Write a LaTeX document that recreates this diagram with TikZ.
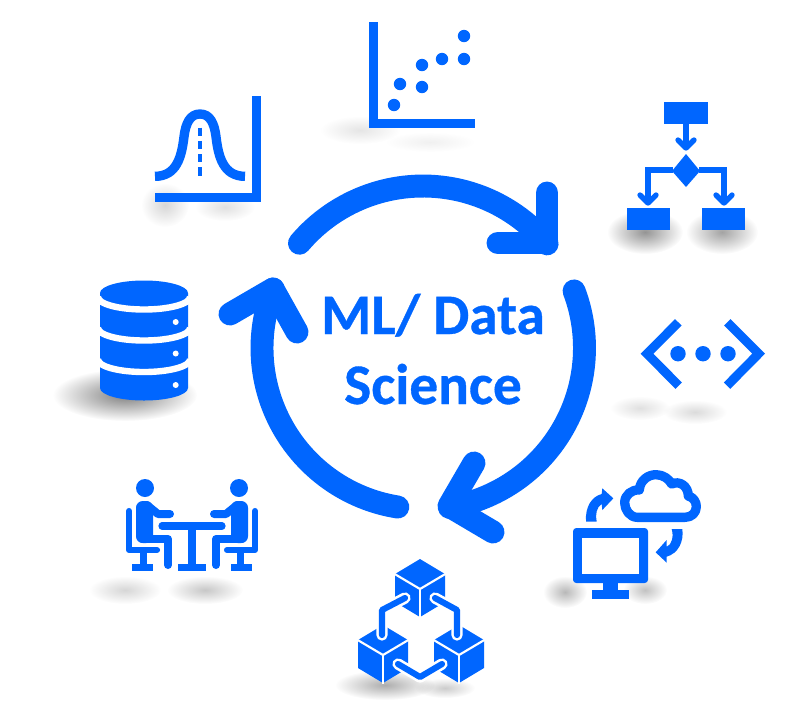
\documentclass[tikz,border=0pt]{standalone}
\usepackage{fontspec}
\setmainfont[BoldFeatures={FakeBold=0.6}]{Carlito}
\usetikzlibrary{fadings}
\definecolor{mlblue}{HTML}{0066FF}
\tikzfading[name=softblob, inner color=transparent!0, outer color=transparent!100]
\tikzset{
  ringarrow/.style={draw=mlblue,line width=17.2pt,line cap=round,line join=round},
  bluefill/.style={fill=mlblue,draw=none},
  softshadow/.style={fill=black,path fading=softblob,fit fading=true,opacity=#1},
  mltext/.style={text=mlblue,font=\fontsize{43}{46}\selectfont\bfseries,anchor=base,inner sep=0pt},
  flowline/.style={draw=mlblue,line width=4pt,line cap=round,line join=round},
  limb/.style={draw=mlblue,line width=6pt,line cap=round,line join=round},
  chair/.style={draw=mlblue,line width=4.6pt,line cap=round,line join=round},
  link/.style={draw=mlblue,line width=4.6pt,line cap=round,line join=round},
  linkcase/.style={draw=white,line width=8.5pt,line cap=round,line join=round},
  facegap/.style={draw=white,line width=1.6pt},
  dbgap/.style={draw=white,line width=4.8pt},
}
\newcommand{\blob}[5]{\fill[softshadow=#5] (#1,#2) ellipse[x radius=#3,y radius=#4];}
\newcommand{\cubeicon}[2]{%
  \fill[bluefill] (#1,#2)+(0,-30) -- +(25,-15) -- +(25,13) -- +(0,28) -- +(-25,13) -- +(-25,-15) -- cycle;
  \draw[facegap] (#1,#2)+(-27,-16) -- +(0,0) -- +(27,-16);
  \draw[facegap] (#1,#2)+(0,0) -- +(0,29);
}
\newcommand{\seatedperson}{%
  \fill[mlblue] (145,488) circle[radius=9];
  \fill[bluefill,rounded corners=5pt] (136,501) rectangle (153,543);
  \draw[limb] (147,505) -- (158,514) -- (170,514);
  \draw[limb] (142,539) -- (168,539) -- (168,565);
  \draw[chair] (129,511) -- (129,550) -- (157,550);
  \fill[bluefill] (140,552) rectangle (147,566);
  \fill[bluefill] (132,564) rectangle (153,571);
}
\begin{document}
\begin{tikzpicture}[x=0.75pt,y=-0.75pt]
\useasboundingbox (0,0) rectangle (791,708);
\fill[white] (0,0) rectangle (791,708);

% soft shadows
\blob{360}{130}{40}{14}{.10}
\blob{430}{142}{45}{10}{.06}
\blob{165}{205}{24}{22}{.16}
\blob{225}{207}{30}{14}{.12}
\blob{645}{232}{38}{22}{.42}
\blob{722}{232}{36}{22}{.36}
\blob{125}{395}{72}{26}{.50}
\blob{640}{408}{30}{12}{.12}
\blob{695}{412}{32}{12}{.14}
\blob{565}{592}{22}{16}{.28}
\blob{645}{590}{22}{14}{.24}
\blob{125}{590}{36}{14}{.16}
\blob{205}{590}{38}{14}{.22}
\blob{385}{685}{50}{15}{.32}
\blob{445}{688}{30}{10}{.20}

% ring of arrows
\coordinate (ctr) at (423,348);
\draw[ringarrow] (ctr)+(220.3:162) arc[start angle=220.3,end angle=320,radius=162]
  coordinate (t1);
\coordinate (t1a) at (547,193);
\coordinate (t1b) at (498,243);
\draw[ringarrow] (t1a) -- (547,243) -- (t1b);
\draw[ringarrow] (ctr)+(-20.7:161.5) arc[start angle=-20.7,end angle=80.6,radius=161.5];
\coordinate (t2a) at (474,463);
\coordinate (t2b) at (493,532);
\draw[ringarrow] (t2a) -- (449,506) -- (t2b);
\draw[ringarrow] (ctr)+(99:161) arc[start angle=99,end angle=201.5,radius=161];
\coordinate (t3a) at (230,314);
\coordinate (t3b) at (297,332);
\draw[ringarrow] (t3a) -- (273,289) -- (t3b);

\node[mltext] (title1) at (433,334) {ML/ Data};
\node[mltext] (title2) at (433,404) {Science};

% scatter plot
\fill[bluefill] (369,22) rectangle (378,128);
\fill[bluefill] (369,118.5) rectangle (475,128);
\foreach \px/\py in {394/105,400/84,422/87,422/65,442/59,464/59,464/36}
  \fill[mlblue] (\px,\py) circle[radius=6.2];

% flow chart
\fill[bluefill] (664,102) rectangle (708,123.5);
\draw[flowline,line cap=butt] (686,123) -- (686,148);
\draw[flowline] (678,140) -- (686,148) -- (694,140);
\fill[bluefill] (686,154) -- (700,171) -- (686,187) -- (672,171) -- cycle;
\draw[flowline,line cap=butt,line join=miter] (673,170) -- (648,170) -- (648,202);
\draw[flowline,line cap=butt,line join=miter] (699,170) -- (724,170) -- (724,202);
\draw[flowline] (640,195) -- (648,203) -- (656,195);
\draw[flowline] (716,195) -- (724,203) -- (732,195);
\fill[bluefill] (627,208) rectangle (670,230);
\fill[bluefill] (702,208) rectangle (745,230);

% bell curve
\fill[bluefill] (252,96) rectangle (261,202);
\fill[bluefill] (155,192.7) rectangle (261,202);
\begin{scope}[shift={(140,90)},scale=1/3]
  \draw[mlblue,line width=7pt]
    (45,259) .. controls (110,259) and (125,200) .. (132,140)
    .. controls (137,100) and (150,72) .. (180,72)
    .. controls (210,72) and (223,100) .. (228,140)
    .. controls (235,200) and (250,259) .. (315,259);
\end{scope}
\draw[mlblue,line width=2.7pt,dash pattern=on 6.2pt off 3.7pt] (200,127.7) -- (200,177);

% database
\fill[bluefill] (100,293) -- (100,388) arc[start angle=180,end angle=0,x radius=44,y radius=12.5] -- (188,293)
  arc[start angle=0,end angle=-180,x radius=44,y radius=12.5] -- cycle;
\foreach \cy in {309.5,340.5,372}
  \draw[dbgap] (98,\cy-12.5) arc[start angle=180,end angle=0,x radius=46,y radius=12.5];
\foreach \cy in {322,353.5,385}
  \fill[white] (175.7,\cy) circle[radius=3];

% code brackets
\draw[mlblue,line width=6.8pt,miter limit=4] (678.3,322.3) -- (647,353.7) -- (678.7,385.7);
\draw[mlblue,line width=6.8pt,miter limit=4] (727.3,322.3) -- (758.6,353.7) -- (727,385.7);
\foreach \px in {678,703,728}
  \fill[mlblue] (\px,353.7) circle[radius=7.7];

% monitor and cloud
\fill[bluefill,rounded corners=2.5pt] (573,528) rectangle (648,583);
\fill[white] (582,538) rectangle (639,574);
\fill[bluefill] (603,583) rectangle (618,591);
\fill[bluefill] (592,590) rectangle (629,599);
\begin{scope}[shift={(550,460)},scale=1/3]
  \draw[mlblue,line width=7pt,line join=round]
    (262,172) .. controls (240,172) and (224,150) .. (224,128)
    .. controls (224,105) and (245,88) .. (268,90)
    .. controls (270,60) and (295,44) .. (318,44)
    .. controls (340,44) and (358,58) .. (365,72)
    .. controls (390,60) and (415,80) .. (415,108)
    .. controls (430,112) and (439,125) .. (439,140)
    .. controls (439,158) and (425,172) .. (405,172) -- cycle;
  \fill[bluefill] (108,185) .. controls (105,140) and (125,110) .. (155,102)
    -- (157,85) -- (190,115) -- (157,150) -- (155,132)
    .. controls (140,140) and (135,165) .. (140,185) -- cycle;
  \fill[bluefill] (397,207) .. controls (402,245) and (385,280) .. (350,290)
    -- (350,308) -- (317,277) -- (350,240) -- (350,260)
    .. controls (365,255) and (372,230) .. (365,207) -- cycle;
\end{scope}

% people at table
\seatedperson
\begin{scope}[shift={(384,0)},xscale=-1]
  \seatedperson
\end{scope}
\draw[limb,line width=5.4pt] (162,526) -- (222,526);
\fill[bluefill] (188,526) rectangle (195.5,566);
\fill[bluefill] (178,564) rectangle (206,571);

% linked cubes
\cubeicon{420}{589}
\cubeicon{383}{655}
\cubeicon{459}{655}
\draw[linkcase] (382,635) -- (382,610) -- (405,598);
\draw[linkcase] (457,635) -- (457,610) -- (435,598);
\draw[linkcase] (398,664) -- (420,677) -- (442,664);
\draw[link] (382,635) -- (382,610) -- (405,598);
\draw[link] (457,635) -- (457,610) -- (435,598);
\draw[link] (398,664) -- (420,677) -- (442,664);
\end{tikzpicture}
\end{document}
